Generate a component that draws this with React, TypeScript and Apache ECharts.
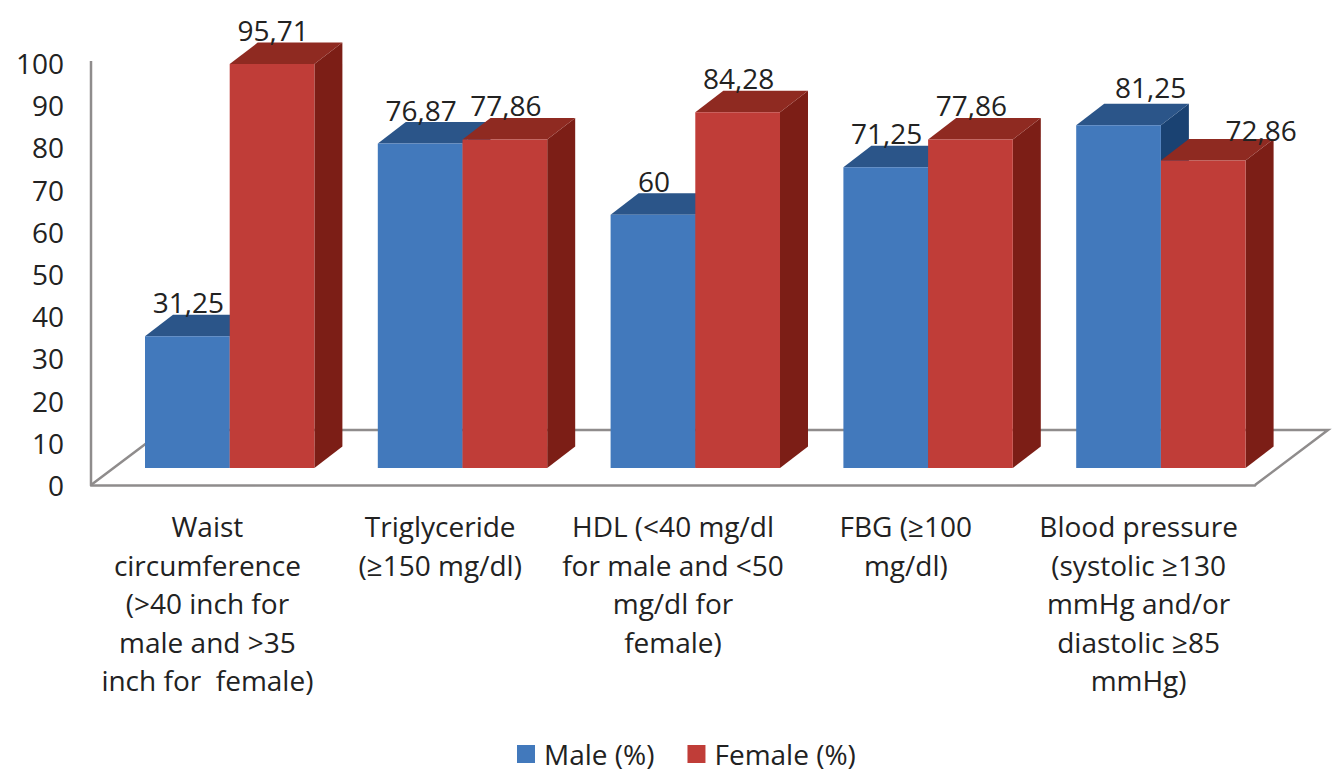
import React, { useEffect, useRef } from "react";
import * as echarts from "echarts";

const categories = [
  "Waist\ncircumference\n(>40 inch for\nmale and >35\ninch for  female)",
  "Triglyceride\n(≥150 mg/dl)",
  "HDL (<40 mg/dl\nfor male and <50\nmg/dl for\nfemale)",
  "FBG (≥100\nmg/dl)",
  "Blood pressure\n(systolic ≥130\nmmHg and/or\ndiastolic ≥85\nmmHg)",
];
const maleValues = [31.25, 76.87, 60, 71.25, 81.25];
const femaleValues = [95.71, 77.86, 84.28, 77.86, 72.86];
const yTicks = { min: 0, max: 100, interval: 10 };
const FONT = "'Open Sans', 'Noto Sans', sans-serif";
const TEXT = "#222222";
const GRAY = "#8f8c8c";
const BAR_W = 84.7;
const SHIFT_X = 22.3;
const SHIFT_Y = 17;
const DEPTH_X = 28;
const DEPTH_Y = 21.5;

const barRenderer = (side: number, front: string, top: string, right: string) => (params: any, api: any) => {
  const p = api.coord([api.value(0), api.value(1)]);
  const base = api.coord([api.value(0), 0]);
  const x0 = p[0] + SHIFT_X + (side < 0 ? -BAR_W : 0);
  const x1 = x0 + BAR_W;
  const yT = p[1] - SHIFT_Y;
  const yB = base[1] - SHIFT_Y;
  return {
    type: "group",
    children: [
      { type: "polygon", shape: { points: [[x1, yT], [x1 + DEPTH_X, yT - DEPTH_Y], [x1 + DEPTH_X, yB - DEPTH_Y], [x1, yB]] }, style: { fill: right } },
      { type: "polygon", shape: { points: [[x0, yT], [x0 + DEPTH_X, yT - DEPTH_Y], [x1 + DEPTH_X, yT - DEPTH_Y], [x1, yT]] }, style: { fill: top } },
      { type: "rect", shape: { x: x0, y: yT, width: BAR_W, height: yB - yT }, style: { fill: front } },
    ],
  };
};

// The last group's two labels sit away from their bars in the reference.
const labelRenderer = (side: number) => (params: any, api: any) => {
  const p = api.coord([api.value(0), api.value(1)]);
  const x0 = p[0] + SHIFT_X + (side < 0 ? -BAR_W : 0);
  const moved = params.dataIndex === 4;
  const nudgeX = moved ? (side < 0 ? 32 : 58) : 1;
  const nudgeY = moved ? (side < 0 ? -38 : -31) : -34;
  return {
    type: "text",
    z2: 100,
    style: {
      x: x0 + BAR_W / 2 + nudgeX,
      y: p[1] - SHIFT_Y + nudgeY,
      text: String(api.value(1)).replace(".", ","),
      fill: TEXT,
      font: `28px ${FONT}`,
      align: "center",
      verticalAlign: "middle",
    },
  };
};

const floorRenderer = (params: any, api: any) => {
  const c = params.coordSys;
  const l = c.x;
  const r = c.x + c.width;
  const b = c.y + c.height;
  const dx = 73;
  const dy = 55;
  return {
    type: "group",
    children: [
      { type: "polyline", shape: { points: [[l, b], [l + dx, b - dy], [r + dx, b - dy], [r, b]] }, style: { fill: "none", stroke: GRAY, lineWidth: 2.5 } },
      { type: "line", shape: { x1: l, y1: c.y - 2, x2: l, y2: b }, style: { stroke: GRAY, lineWidth: 2.5 } },
    ],
  };
};

export default function App() {
  const ref = useRef<HTMLDivElement>(null);
  useEffect(() => {
    const chart = echarts.init(ref.current!, undefined, { renderer: "svg" });
    chart.setOption({
      animation: false,
      backgroundColor: "#ffffff",
      grid: { left: 91, top: 63, width: 1164, height: 422, containLabel: false },
      legend: {
        left: 512,
        top: 735,
        data: ["Male (%)", "Female (%)"],
        icon: "rect",
        itemWidth: 18,
        itemHeight: 18,
        itemGap: 33,
        textStyle: { fontFamily: FONT, fontSize: 28, color: TEXT, padding: [0, 0, 0, 4] },
      },
      xAxis: {
        type: "category",
        data: categories,
        axisLine: { show: true, lineStyle: { color: GRAY, width: 2.5 } },
        axisTick: { show: false },
        axisLabel: {
          interval: 0,
          margin: 22,
          fontFamily: FONT,
          fontSize: 28,
          lineHeight: 38.5,
          color: TEXT,
          align: "center",
        },
      },
      yAxis: {
        type: "value",
        min: yTicks.min,
        max: yTicks.max,
        interval: yTicks.interval,
        axisLine: { show: false },
        axisTick: { show: false },
        splitLine: { show: false },
        axisLabel: { margin: 27, fontFamily: FONT, fontSize: 28, color: TEXT },
      },
      series: [
        { type: "custom", name: "floor", silent: true, z: 1, renderItem: floorRenderer, data: [[0, 0]], encode: { x: 0, y: 1 } },
        {
          type: "custom",
          name: "Male (%)",
          z: 2,
          itemStyle: { color: "#4279bc" },
          renderItem: barRenderer(-1, "#4279bc", "#2b5589", "#1a4272"),
          data: maleValues.map((v, i) => [i, v]),
          encode: { x: 0, y: 1 },
        },
        {
          type: "custom",
          name: "Female (%)",
          z: 3,
          itemStyle: { color: "#c03d38" },
          renderItem: barRenderer(1, "#c03d38", "#8f2a21", "#7c1e16"),
          data: femaleValues.map((v, i) => [i, v]),
          encode: { x: 0, y: 1 },
        },
        { type: "custom", name: "maleLabels", silent: true, z: 5, renderItem: labelRenderer(-1), data: maleValues.map((v, i) => [i, v]), encode: { x: 0, y: 1 } },
        { type: "custom", name: "femaleLabels", silent: true, z: 5, renderItem: labelRenderer(1), data: femaleValues.map((v, i) => [i, v]), encode: { x: 0, y: 1 } },
      ],
    });
    return () => chart.dispose();
  }, []);
  return <div ref={ref} style={{ position: "absolute", left: 0, top: 0, width: 1343, height: 779 }} />;
}
